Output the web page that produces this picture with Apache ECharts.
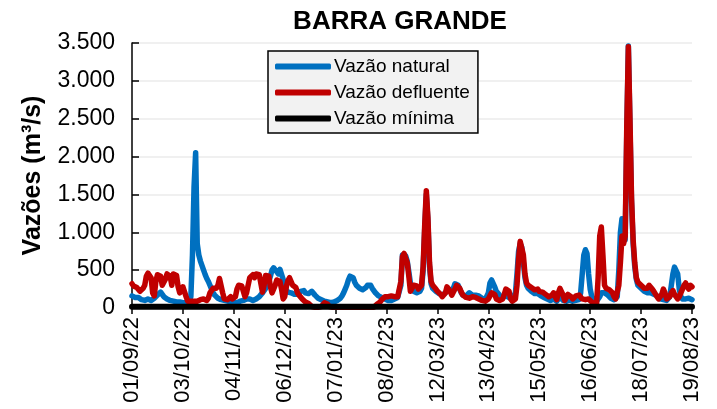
<!DOCTYPE html>
<html>
<head>
<meta charset="utf-8">
<script src="https://cdn.jsdelivr.net/npm/echarts@6/dist/echarts.min.js"></script>
<style>
  html, body { margin: 0; padding: 0; background: #fff; }
  #chart { width: 717px; height: 409px; }
</style>
</head>
<body>
<div id="chart"></div>
<script>
// datas diárias de 01/09/22 a 19/08/23
const startDate = Date.UTC(2022, 8, 1)
const nDays = 353

// vazão natural (m³/s)
const natural = [
  160, 150, 140, 130, 140, 120, 110, 100, 100, 110,
  120, 110, 100, 110, 130, 150, 170, 190, 210, 180,
  150, 130, 120, 110, 100, 90, 90, 80, 80, 80,
  80, 70, 70, 70, 70, 80, 90, 150, 700, 1600,
  2050, 850, 700, 620, 560, 500, 440, 390, 350, 300,
  250, 200, 170, 150, 130, 120, 110, 100, 100, 90,
  90, 80, 80, 80, 70, 70, 70, 80, 90, 100,
  100, 110, 120, 130, 120, 110, 100, 110, 120, 130,
  150, 170, 200, 230, 260, 300, 350, 420, 500, 530,
  530, 480, 450, 510, 520, 380, 280, 240, 210, 190,
  200, 190, 180, 170, 180, 200, 220, 240, 230, 200,
  200, 190, 210, 220, 200, 170, 150, 130, 120, 110,
  100, 90, 80, 80, 70, 70, 70, 80, 90, 100,
  110, 130, 160, 200, 250, 300, 370, 420, 430, 400,
  340, 300, 280, 260, 250, 240, 250, 270, 300, 320,
  300, 260, 230, 200, 180, 160, 150, 140, 130, 120,
  110, 100, 100, 100, 110, 120, 130, 140, 150, 300,
  700, 720, 690, 620, 480, 330, 260, 220, 200, 200,
  200, 220, 260, 500, 1050, 1500, 1150, 550, 320, 260,
  240, 220, 200, 190, 180, 170, 180, 200, 230, 240,
  230, 220, 260, 320, 340, 300, 250, 200, 170, 150,
  160, 180, 200, 190, 170, 160, 170, 180, 160, 140,
  130, 120, 110, 130, 200, 330, 370, 350, 280, 220,
  200, 170, 150, 140, 150, 160, 150, 140, 130, 120,
  120, 200, 450, 750, 850, 800, 600, 400, 300, 260,
  240, 220, 200, 190, 200, 190, 170, 160, 150, 140,
  130, 120, 110, 100, 110, 120, 100, 90, 120, 150,
  130, 100, 90, 90, 100, 110, 100, 90, 100, 100,
  100, 110, 200, 450, 700, 770, 720, 450, 250, 150,
  120, 100, 90, 100, 150, 200, 220, 200, 180, 170,
  150, 130, 120, 110, 100, 150, 500, 1000, 1180, 1000,
  900, 2300, 3460, 2400, 1400, 850, 550, 380, 300, 280,
  260, 240, 220, 210, 200, 210, 200, 190, 180, 170,
  160, 140, 120, 110, 110, 100, 100, 100, 150, 300,
  450, 540, 560, 450, 250, 150, 120, 110, 120, 130,
  130, 120, 110
]

// vazão defluente (m³/s)
const defluente = [
  320, 290, 280, 270, 280, 220, 200, 260, 300, 420,
  460, 450, 400, 200, 160, 350, 440, 460, 420, 300,
  280, 380, 450, 460, 420, 300, 450, 470, 430, 280,
  200, 250, 280, 270, 150, 90, 80, 90, 100, 90,
  80, 90, 100, 110, 130, 120, 110, 100, 130, 200,
  200, 260, 280, 260, 300, 390, 400, 200, 120, 100,
  110, 130, 150, 120, 100, 150, 250, 300, 310, 290,
  280, 150, 200, 300, 400, 420, 440, 400, 450, 460,
  440, 420, 210, 300, 430, 440, 420, 280, 200, 250,
  300, 370, 380, 350, 250, 120, 150, 280, 360, 400,
  380, 300, 280, 270, 200, 170, 150, 120, 100, 80,
  70, 60, 40, 20, 10, 10, 10, 10, 10, 20,
  40, 70, 80, 50, 20, 10, 10, 10, 10, 10,
  10, 10, 10, 10, 10, 10, 10, 10, 10, 10,
  10, 10, 10, 10, 10, 10, 10, 10, 10, 10,
  10, 10, 10, 30, 50, 60, 80, 110, 130, 150,
  160, 150, 140, 160, 170, 150, 140, 150, 160, 350,
  680, 720, 700, 600, 420, 220, 260, 300, 310, 290,
  250, 260, 300, 550, 1100, 1550, 1200, 600, 350, 300,
  280, 250, 220, 200, 180, 150, 150, 200, 280, 300,
  220, 170, 180, 250, 300, 290, 260, 210, 170, 150,
  140, 130, 130, 140, 150, 150, 140, 130, 120, 110,
  100, 90, 90, 100, 120, 160, 200, 210, 180, 120,
  110, 100, 100, 120, 180, 250, 260, 220, 120, 90,
  90, 120, 300, 650, 880, 890, 700, 450, 330, 300,
  290, 270, 250, 240, 260, 250, 220, 200, 210, 190,
  180, 160, 150, 140, 170, 200, 150, 110, 200, 260,
  250, 170, 100, 120, 180, 200, 150, 120, 140, 160,
  150, 170, 150, 120, 100, 110, 130, 120, 100, 80,
  50, 30, 50, 400, 950, 1070, 700, 300, 260, 280,
  240, 220, 200, 150, 120, 130, 300, 600, 950, 850,
  950, 2400, 3450, 2500, 1450, 900, 600, 400, 340, 320,
  300, 280, 260, 240, 260, 300, 280, 250, 220, 200,
  150, 120, 100, 180, 250, 200, 120, 100, 150, 200,
  230, 180, 150, 120, 150, 200, 250, 300, 330, 280,
  250, 300, 280
]

// vazão mínima (m³/s)
const minima = new Array(nDays).fill(15)

// rótulos dd/mm/aa
let dias = []
for (let i = 0; i < nDays; i++) {
  let d = new Date(startDate + i * 86400000)
  let dd = String(d.getUTCDate()).padStart(2, "0")
  let mm = String(d.getUTCMonth() + 1).padStart(2, "0")
  let yy = String(d.getUTCFullYear()).slice(2)
  dias.push(dd + "/" + mm + "/" + yy)
}

let myChart = echarts.init(document.getElementById("chart"))

function lineSerie(name, data, color, width) {
  return {
    name: name,
    type: "line",
    data: data,
    showSymbol: false,
    symbol: "none",
    lineStyle: { color: color, width: width, join: "round", cap: "round" },
    itemStyle: { color: color },
  }
}

myChart.setOption({
  animation: false,
  textStyle: { fontFamily: "Liberation Sans" },
  title: {
    text: "BARRA GRANDE",
    left: 395,
    top: 4,
    textAlign: "center",
    textStyle: { fontSize: 26, fontWeight: "bold", color: "#000" },
  },
  legend: {
    left: 268,
    top: 51,
    orient: "vertical",
    icon: "roundRect",
    itemWidth: 56,
    itemHeight: 6,
    itemGap: 7,
    padding: [6, 8, 5, 7],
    backgroundColor: "#f2f2f2",
    borderColor: "#000",
    borderWidth: 1.5,
    borderRadius: 0,
    textStyle: { fontSize: 19, color: "#000", padding: [0, 0, 0, -2] },
    data: ["Vazão natural", "Vazão defluente", "Vazão mínima"],
  },
  grid: {
    left: 132,
    right: 25,
    top: 43,
    bottom: 101,
  },
  xAxis: {
    type: "category",
    boundaryGap: false,
    data: dias,
    axisLine: { lineStyle: { color: "#000", width: 1.5 } },
    axisTick: { interval: 31, length: 6, lineStyle: { color: "#000", width: 1.5 } },
    axisLabel: {
      interval: 31,
      rotate: 90,
      margin: 9,
      fontSize: 22,
      color: "#000",
    },
    splitLine: { show: false },
  },
  yAxis: {
    type: "value",
    min: 0,
    max: 3500,
    interval: 500,
    name: "Vazões (m³/s)",
    nameLocation: "middle",
    nameGap: 86,
    nameTextStyle: { fontSize: 25, fontWeight: "bold", color: "#000" },
    axisLine: { show: true, lineStyle: { color: "#000", width: 1.5 } },
    axisTick: { show: true, inside: true, length: 7, lineStyle: { color: "#000", width: 1.5 } },
    axisLabel: {
      margin: 17,
      fontSize: 23,
      color: "#000",
      formatter: function (v) {
        return String(v).replace(/\B(?=(\d{3})+(?!\d))/g, ".")
      },
    },
    splitLine: { lineStyle: { color: "#ebebeb", width: 1.5 } },
  },
  series: [
    lineSerie("Vazão natural", natural, "#0070c0", 5.5),
    lineSerie("Vazão defluente", defluente, "#c00000", 5.5),
    lineSerie("Vazão mínima", minima, "#000000", 6),
  ],
})
</script>
</body>
</html>
